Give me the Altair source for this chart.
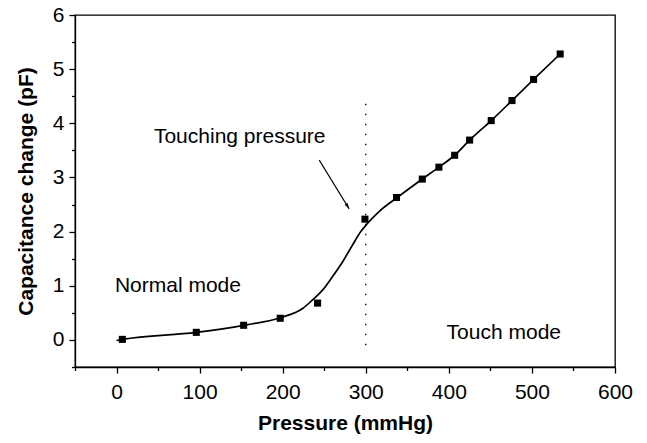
import altair as alt
import pandas as pd

# Measured points
pressure = [7, 96, 153, 197, 242, 299, 337, 368, 388, 407, 425, 451, 476, 502, 534]
capacitance = [0.01, 0.14, 0.27, 0.40, 0.68, 2.23, 2.63, 2.97, 3.19, 3.41, 3.69, 4.05, 4.42, 4.81, 5.28]

# Fitted curve knots
curve_p = [0, 7, 96, 153, 197, 224, 236, 248, 260, 272, 284, 294, 302, 316, 337,
           368, 388, 407, 425, 451, 476, 502, 534]
curve_c = [-0.01, 0.01, 0.14, 0.27, 0.41, 0.58, 0.74, 0.92, 1.17, 1.44, 1.75, 2.00,
           2.15, 2.37, 2.62, 2.97, 3.19, 3.41, 3.69, 4.05, 4.42, 4.81, 5.28]

# Touch-point marker line
touch_p = 300
touch_range = [-0.1, 4.4]

# Annotations
labels = ["Normal mode", "Touch mode", "Touching pressure"]
label_p = [-2, 535, 45]
label_c = [0.88, 0.01, 3.63]
label_align = ["left", "right", "left"]

# Arrow from label to curve
arrow_start = (244, 3.32)
arrow_end = (280, 2.42)

# Axis tick positions (major ones carry labels)
x_ticks = [-50, 0, 50, 100, 150, 200, 250, 300, 350, 400, 450, 500, 550, 600]
y_ticks = [-0.5, 0, 0.5, 1, 1.5, 2, 2.5, 3, 3.5, 4, 4.5, 5, 5.5, 6]

FONT = "Liberation Sans"
FS = 21
xs = alt.Scale(domain=[-50, 600], nice=False, zero=False)
ys = alt.Scale(domain=[-0.5, 6], nice=False, zero=False)

x_axis = alt.Axis(
    title="Pressure (mmHg)",
    values=x_ticks,
    labelExpr="datum.value % 100 === 0 ? format(datum.value, 'd') : ''",
    tickSize={"condition": {"test": "datum.value % 100 === 0", "value": 6}, "value": 3.5},
    grid=False, domainColor="black", tickColor="black", domainWidth=1.3, tickWidth=1.3,
    labelFont=FONT, labelFontSize=FS, labelColor="black", labelPadding=8,
    labelOverlap=False, labelFlush=False,
    titleFont=FONT, titleFontSize=FS, titleFontWeight="bold", titleColor="black",
    titlePadding=10,
)
y_axis = alt.Axis(
    title="Capacitance change (pF)",
    values=y_ticks,
    labelExpr="datum.value % 1 === 0 ? format(datum.value, 'd') : ''",
    tickSize={"condition": {"test": "datum.value % 1 === 0", "value": 6}, "value": 3.5},
    grid=False, domainColor="black", tickColor="black", domainWidth=1.3, tickWidth=1.3,
    labelFont=FONT, labelFontSize=FS, labelColor="black", labelPadding=5,
    labelOverlap=False, labelFlush=False,
    titleFont=FONT, titleFontSize=FS, titleFontWeight="bold", titleColor="black",
    titlePadding=16,
)

X = alt.X("p:Q", scale=xs, axis=x_axis)
Y = alt.Y("c:Q", scale=ys, axis=y_axis)

points_df = pd.DataFrame({"p": pressure, "c": capacitance})
curve_df = pd.DataFrame({"p": curve_p, "c": curve_c})

curve = alt.Chart(curve_df).mark_line(
    color="black", strokeWidth=1.7, interpolate="monotone"
).encode(x=X, y=Y)

points = alt.Chart(points_df).mark_point(
    shape="square", filled=True, color="black", size=50, opacity=1
).encode(x=X, y=Y)

vline_df = pd.DataFrame({"p": [touch_p], "c": [touch_range[0]], "c2": [touch_range[1]]})
vline = alt.Chart(vline_df).mark_rule(
    color="black", strokeWidth=1.3, strokeDash=[1.5, 8.5]
).encode(x=X, y=Y, y2="c2:Q")

text_df = pd.DataFrame({"t": labels, "p": label_p, "c": label_c, "a": label_align})
texts = alt.layer(*[
    alt.Chart(text_df[text_df["a"] == al]).mark_text(
        font=FONT, fontSize=FS, color="black", align=al, baseline="alphabetic"
    ).encode(x=X, y=Y, text="t:N")
    for al in ["left", "right"]
])

arrow_df = pd.DataFrame({
    "p": [arrow_start[0]], "c": [arrow_start[1]],
    "p2": [arrow_end[0]], "c2": [arrow_end[1]],
})
arrow_line = alt.Chart(arrow_df).mark_rule(color="black", strokeWidth=1.1).encode(
    x=X, y=Y, x2="p2:Q", y2="c2:Q"
)
arrow_head = alt.Chart(pd.DataFrame({"p": [arrow_end[0]], "c": [arrow_end[1]]})).mark_point(
    shape="M0,0 L-0.45,-1.5 L0.45,-1.5 Z", filled=True, color="black", size=60,
    opacity=1, angle=328.6
).encode(x=X, y=Y)

chart = alt.layer(curve, points, vline, arrow_line, arrow_head, texts).properties(
    width=540, height=352,
    padding={"left": 75, "top": 15, "right": 32, "bottom": 76},
    autosize=alt.AutoSizeParams(type="none"),
    background="white",
).configure_view(stroke="black", strokeWidth=1.3)

chart.save("out.html", embed_options={"renderer": "svg", "actions": False})
